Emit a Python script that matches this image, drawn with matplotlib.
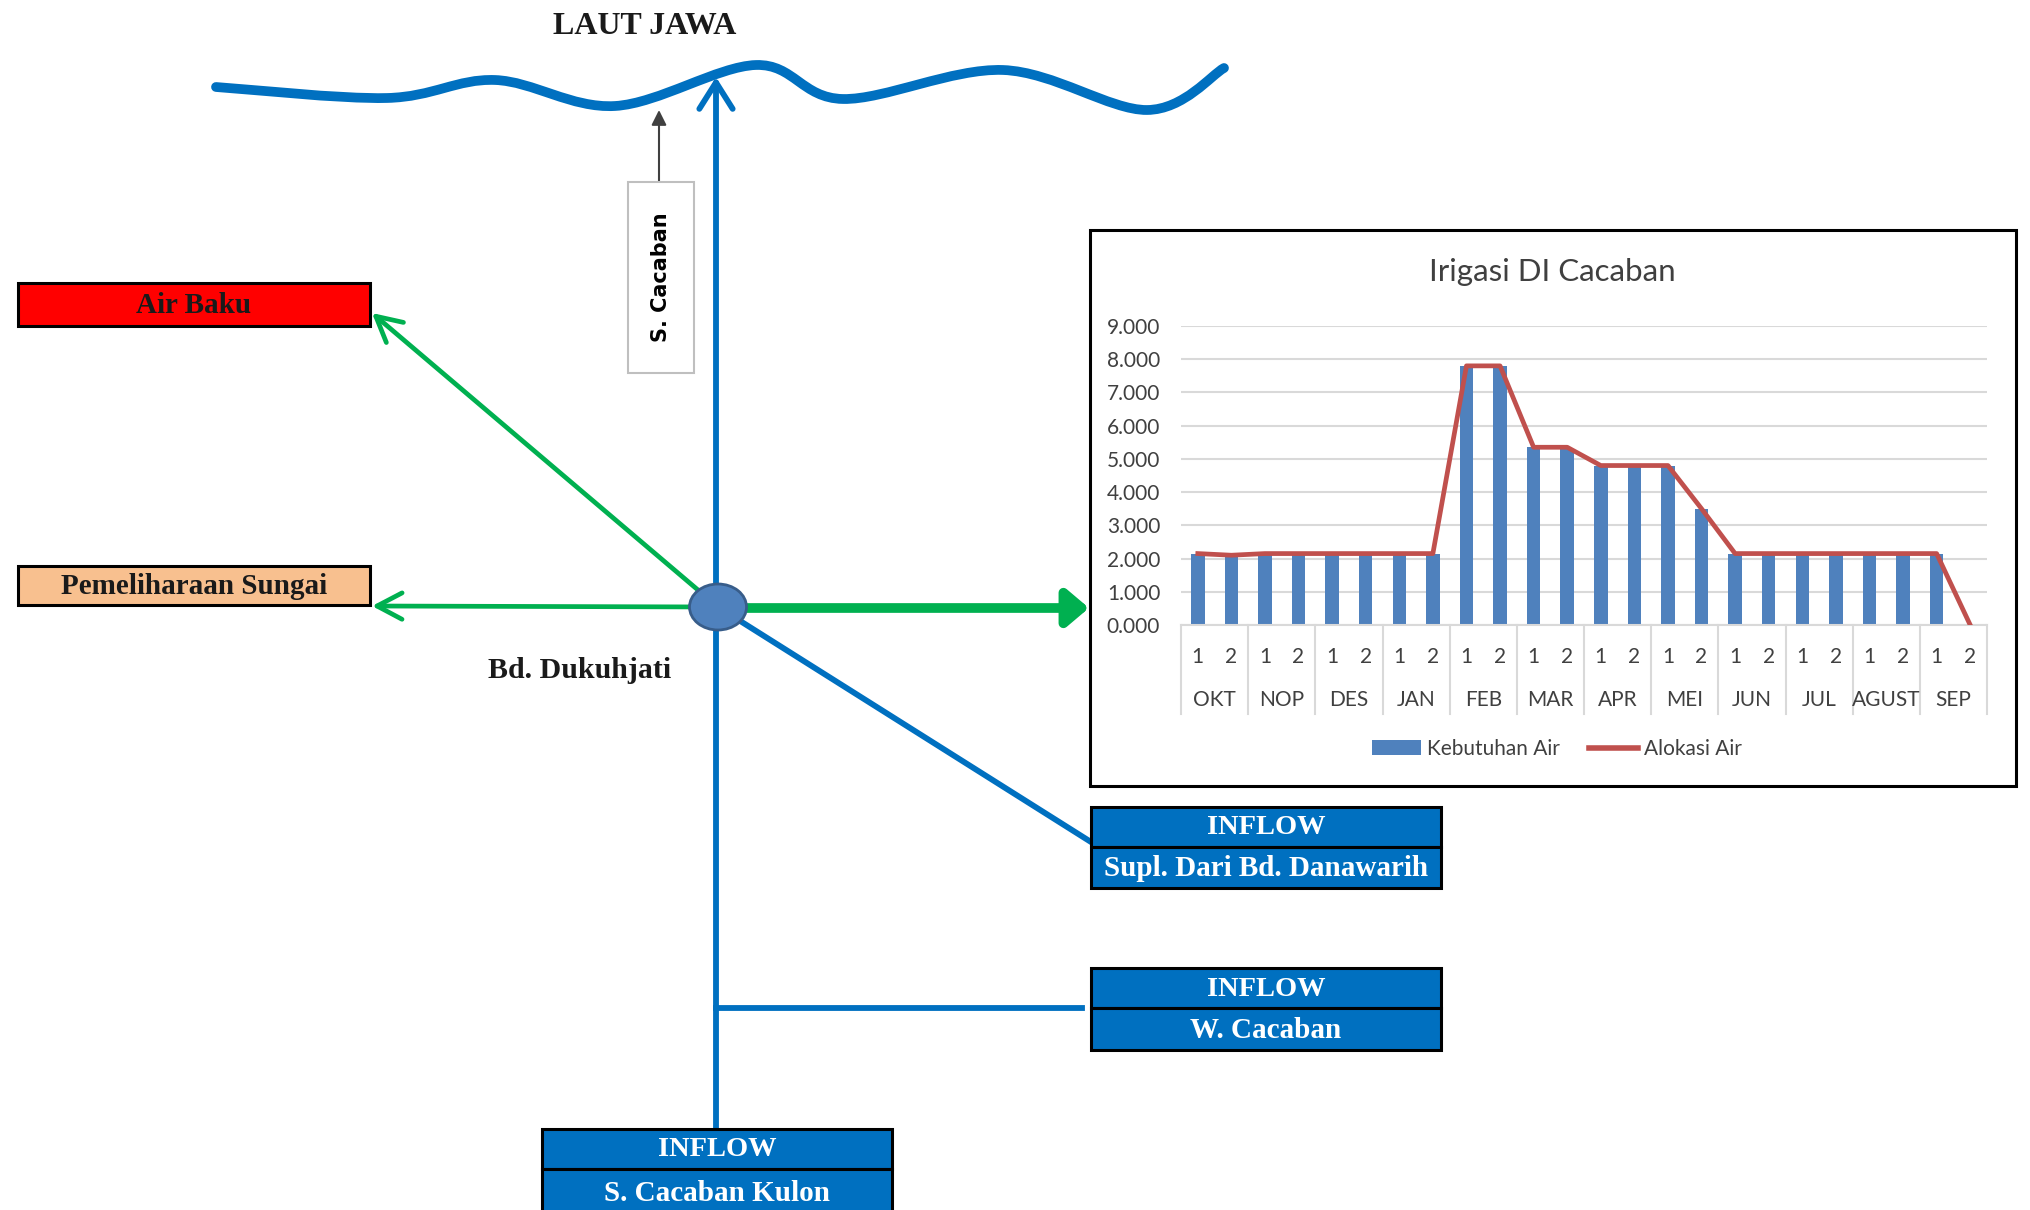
import matplotlib
matplotlib.use('Agg')
import matplotlib.pyplot as plt
from matplotlib.patches import Rectangle, Ellipse, FancyArrowPatch, PathPatch, Patch
from matplotlib.lines import Line2D
from matplotlib.path import Path
import numpy as np

plt.rcParams['font.family'] = ['Lato', 'DejaVu Sans']

# ---------------- chart data ----------------
months = ['OKT', 'NOP', 'DES', 'JAN', 'FEB', 'MAR', 'APR', 'MEI', 'JUN', 'JUL', 'AGUST', 'SEP']
halves = ['1', '2']
kebutuhan_air = [2.15, 2.10, 2.15, 2.15, 2.15, 2.15, 2.15, 2.15, 7.80, 7.80, 5.35, 5.30,
                 4.80, 4.80, 4.80, 3.50, 2.15, 2.15, 2.15, 2.15, 2.15, 2.15, 2.15, 0.00]
alokasi_air = [2.15, 2.10, 2.15, 2.15, 2.15, 2.15, 2.15, 2.15, 7.80, 7.80, 5.35, 5.35,
               4.80, 4.80, 4.80, 3.50, 2.15, 2.15, 2.15, 2.15, 2.15, 2.15, 2.15, 0.00]
y_ticks = [0, 1, 2, 3, 4, 5, 6, 7, 8, 9]

# colours
BLUE = '#0070c0'
GREEN = '#00b050'
NODE = '#4f81bd'
BAR = '#4f81bd'
RED_LINE = '#c0504d'
GREY_TXT = '#595959'
GRID = '#d9d9d9'
SERIF = ['Liberation Serif', 'DejaVu Serif']

W, H = 2030, 1210
fig = plt.figure(figsize=(W / 100, H / 100), dpi=100)
ax = fig.add_axes([0, 0, 1, 1])
ax.set_xlim(0, W)
ax.set_ylim(H, 0)
ax.axis('off')

# ---------------- sea line (laut jawa) ----------------
wave_pts = np.array([(216, 87), (387, 98), (495, 80), (615, 106), (756, 65),
                     (843, 99), (1003, 70), (1147, 110), (1224, 68)], dtype=float)
# catmull-rom -> cubic bezier so the curve goes through the points
p = np.vstack([wave_pts[0], wave_pts, wave_pts[-1]])
verts = [tuple(wave_pts[0])]
codes = [Path.MOVETO]
for i in range(1, len(p) - 2):
    c1 = p[i] + (p[i + 1] - p[i - 1]) / 6
    c2 = p[i + 1] - (p[i + 2] - p[i]) / 6
    verts += [tuple(c1), tuple(c2), tuple(p[i + 1])]
    codes += [Path.CURVE4] * 3
ax.add_patch(PathPatch(Path(verts, codes), facecolor='none', edgecolor=BLUE, lw=7,
                       capstyle='round', zorder=3))
ax.text(645, 27, 'LAUT JAWA', ha='center', va='center', fontsize=23, fontweight='bold',
        family=SERIF, color='#1a1a1a')

node = (718, 607)

# ---------------- blue river lines ----------------
ax.add_patch(FancyArrowPatch((716, 1130), (716, 77), arrowstyle='->,head_length=19,head_width=12',
                             mutation_scale=1, color=BLUE, lw=4.2, shrinkA=0, shrinkB=0, zorder=4))
ax.plot([node[0], 1091], [node[1], 842], color=BLUE, lw=4.2, zorder=2)
ax.plot([716, 1082], [1008, 1008], color=BLUE, lw=4.2, zorder=2)

# ---------------- green offtakes ----------------
ax.add_patch(FancyArrowPatch(node, (372, 313), arrowstyle='->,head_length=18,head_width=9.5',
                             mutation_scale=1, color=GREEN, lw=3.4, shrinkA=0, shrinkB=0, zorder=2))
ax.add_patch(FancyArrowPatch(node, (372, 606), arrowstyle='->,head_length=18,head_width=9.5',
                             mutation_scale=1, color=GREEN, lw=3.4, shrinkA=0, shrinkB=0, zorder=2))
ax.add_patch(FancyArrowPatch((735, 608), (1089, 608), arrowstyle='-|>,head_length=13,head_width=11',
                             mutation_scale=1, color=GREEN, lw=7, shrinkA=0, shrinkB=0, zorder=2))

# bendung node
ax.add_patch(Ellipse(node, 57, 46, facecolor=NODE, edgecolor='#385d8a', lw=2, zorder=6))
ax.text(580, 670, 'Bd. Dukuhjati', ha='center', va='center', fontsize=21.5, fontweight='bold',
        family=SERIF, color='#1a1a1a')

# ---------------- S. Cacaban small box ----------------
ax.add_patch(FancyArrowPatch((659, 182), (659, 110), arrowstyle='-|>,head_length=9,head_width=4.5',
                             mutation_scale=1, color='#404040', lw=1.5, shrinkA=0, shrinkB=0, zorder=3))
ax.add_patch(Rectangle((628, 182), 66, 191, facecolor='white', edgecolor='#bfbfbf', lw=1.5, zorder=3))
ax.text(661, 277, 'S. Cacaban', rotation=90, ha='center', va='center', fontsize=15,
        fontweight='bold', family=['DejaVu Sans'], color='black', zorder=4)


def label_box(x0, y0, x1, y1, text, face, tcolor, size=20.5):
    ax.add_patch(Rectangle((x0, y0), x1 - x0, y1 - y0, facecolor=face, edgecolor='black',
                           lw=2.2, zorder=5))
    ax.text((x0 + x1) / 2, (y0 + y1) / 2 + 1, text, ha='center', va='center', fontsize=size,
            fontweight='bold', family=SERIF, color=tcolor, zorder=6)


label_box(18, 283, 370, 326, 'Air Baku', '#ff0000', '#1a1a1a', 21)
label_box(18, 566, 370, 605, 'Pemeliharaan Sungai', '#f8c08f', '#1a1a1a', 21)

label_box(1091, 807, 1441, 847, 'INFLOW', BLUE, 'white')
label_box(1091, 847, 1441, 888, 'Supl. Dari Bd. Danawarih', BLUE, 'white', 21)
label_box(1091, 968, 1441, 1008, 'INFLOW', BLUE, 'white')
label_box(1091, 1008, 1441, 1050, 'W. Cacaban', BLUE, 'white', 21)
label_box(542, 1129, 892, 1169, 'INFLOW', BLUE, 'white')
label_box(542, 1169, 892, 1216, 'S. Cacaban Kulon', BLUE, 'white', 21)

# ---------------- chart: Irigasi DI Cacaban ----------------
ax.add_patch(Rectangle((1090, 230), 926, 556, facecolor='white', edgecolor='black', lw=2.2, zorder=1))
ax.text(1552, 272, 'Irigasi DI Cacaban', ha='center', va='center', fontsize=22.5, color='#404040')

cax = fig.add_axes([1181 / W, 1 - 625 / H, 806 / W, 299 / H])
cax.patch.set_alpha(0)
x = np.arange(len(kebutuhan_air))
cax.bar(x, kebutuhan_air, width=0.4, color=BAR, zorder=2)
cax.plot(x, alokasi_air, color=RED_LINE, lw=3.4, zorder=3, solid_joinstyle='round')
cax.set_xlim(-0.5, len(x) - 0.5)
cax.set_ylim(0, 9)
cax.set_yticks(y_ticks)
cax.set_yticklabels([f'{v:.3f}' for v in y_ticks])
cax.set_xticks([])
cax.yaxis.grid(True, color=GRID, lw=1.5)
cax.set_axisbelow(True)
for s in ['top', 'right', 'left']:
    cax.spines[s].set_visible(False)
cax.spines['bottom'].set_color(GRID)
cax.spines['bottom'].set_linewidth(1.5)
cax.tick_params(axis='y', length=0, pad=15, labelsize=15, labelcolor='#404040')

# two level category axis
trans = cax.get_xaxis_transform()
for i in range(len(x)):
    cax.text(i, -0.107, halves[i % 2], transform=trans, ha='center', va='center',
             fontsize=15, color='#404040')
for m, name in enumerate(months):
    cax.text(2 * m + 0.5, -0.252, name, transform=trans, ha='center', va='center',
             fontsize=15, color='#404040')
for b in range(len(months) + 1):
    cax.plot([2 * b - 0.5, 2 * b - 0.5], [0, -0.298], transform=trans, color=GRID, lw=1.5,
             clip_on=False)

handles = [Patch(facecolor=BAR, label='Kebutuhan Air'),
           Line2D([0], [0], color=RED_LINE, lw=4, label='Alokasi Air')]
leg = fig.legend(handles=handles, loc='center', bbox_to_anchor=(1557 / W, 1 - 749 / H), ncol=2,
                 frameon=False, fontsize=15, handlelength=2.35, handletextpad=0.3,
                 columnspacing=1.4)
for t in leg.get_texts():
    t.set_color('#404040')

fig.savefig('out.png', dpi=100)
